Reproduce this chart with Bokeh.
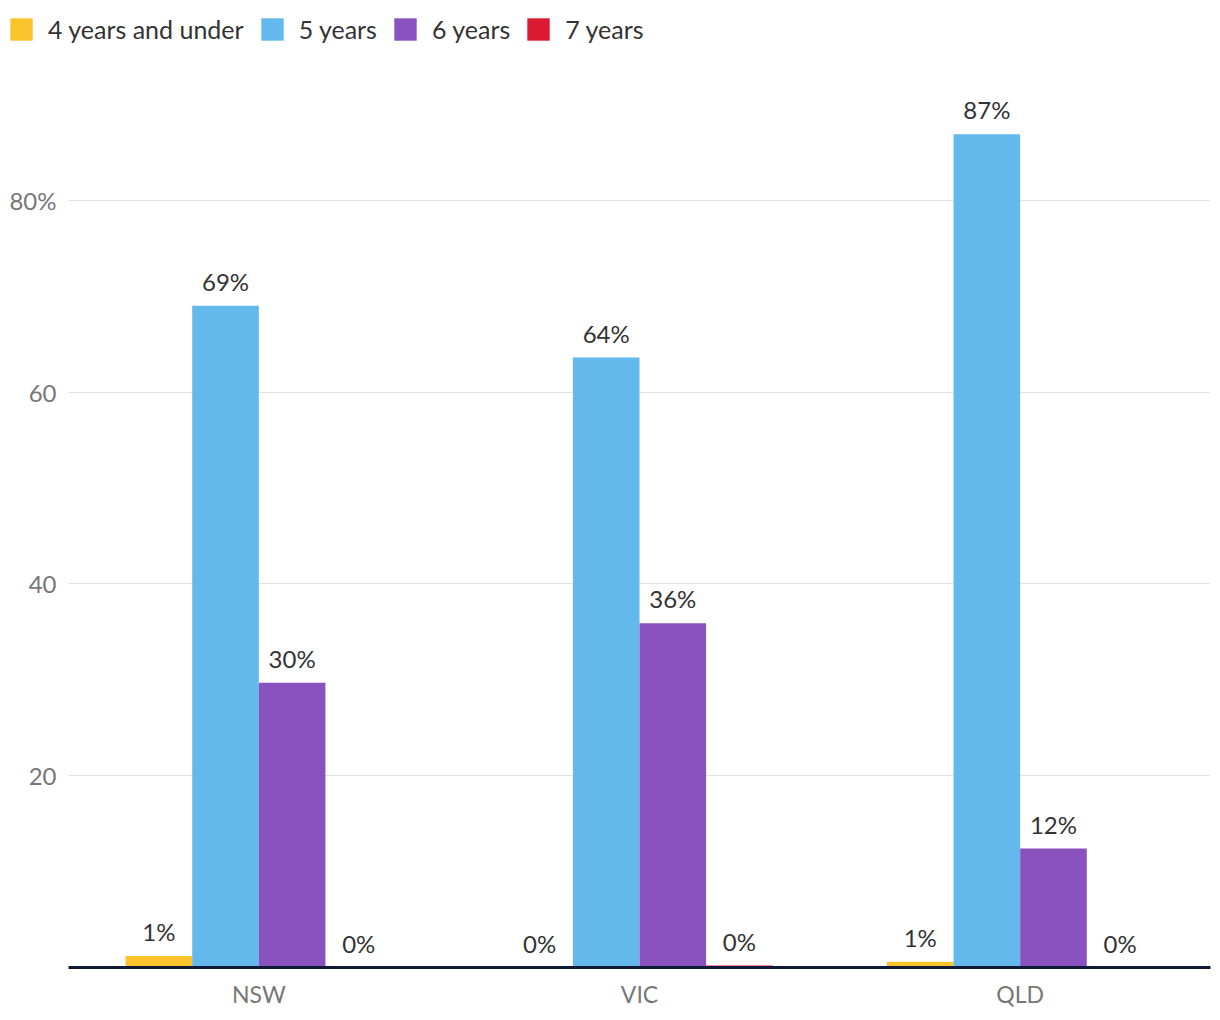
from bokeh.plotting import figure
from bokeh.layouts import column
from bokeh.models import ColumnDataSource, FactorRange, Range1d, FixedTicker, Legend, LegendItem
from bokeh.transform import dodge
from bokeh.embed import file_html
from bokeh.resources import INLINE

states = ["NSW", "VIC", "QLD"]
series_names = ["4 years and under", "5 years", "6 years", "7 years"]
under4 = [1.2, 0.0, 0.6]
five = [69.0, 63.6, 86.9]
six = [29.7, 35.9, 12.4]
seven = [0.0, 0.2, 0.0]
colors = ["#FBC42D", "#63B8EC", "#8A52BF", "#DB1A31"]
y_ticks = [0, 20, 40, 60, 80]
y_tick_labels = {0: "", 20: "20", 40: "40", 60: "60", 80: "80%"}

FONT = "Lato"
W = 1212
LEG_H = 60

# ---- legend strip ----
lg = figure(width=W, height=LEG_H, x_range=Range1d(0, 1), y_range=Range1d(0, 1),
            output_backend="svg", toolbar_location=None,
            min_border=0, min_border_left=0, min_border_right=0, min_border_top=0, min_border_bottom=0)
lg.axis.visible = False
lg.grid.visible = False
lg.outline_line_color = None
leg_renderers = []
for name, col in zip(series_names, colors):
    r = lg.vbar(x=[5], top=[5], bottom=[4], width=0.1, fill_color=col, line_color=None)
    leg_renderers.append(r)
legend = Legend(items=[LegendItem(label=n, renderers=[r]) for n, r in zip(series_names, leg_renderers)],
                orientation="horizontal", location=(7, 16),
                label_text_font=FONT, label_text_font_size="25px", label_text_color="#333333",
                glyph_width=28, glyph_height=28, label_standoff=13, spacing=14,
                padding=0, margin=0, border_line_color=None, background_fill_alpha=0)
lg.add_layout(legend, "center")

# ---- main chart ----
p = figure(x_range=FactorRange(*states, range_padding=0), y_range=Range1d(0, 908 / 9.6),
           width=W, height=950, output_backend="svg", toolbar_location=None,
           min_border_left=68, min_border_right=2, min_border_top=0, min_border_bottom=42)
p.outline_line_color = None

offsets = [-0.2625, -0.0875, 0.0875, 0.2625]
series = [under4, five, six, seven]
for name, vals, col, off in zip(series_names, series, colors, offsets):
    src = ColumnDataSource(dict(state=states, v=vals, lab=[f"{round(v)}%" for v in vals]))
    p.vbar(x=dodge("state", off, range=p.x_range), top="v", width=0.175, source=src,
           fill_color=col, line_color=None)
    p.text(x=dodge("state", off, range=p.x_range), y="v", text="lab", source=src,
           text_align="center", text_baseline="bottom", y_offset=-10,
           text_font_size="24px", text_color="#333333", text_font={"value": FONT})

p.xgrid.grid_line_color = None
p.ygrid.ticker = FixedTicker(ticks=y_ticks)
p.ygrid.grid_line_color = "#e2e2e2"
p.ygrid.grid_line_width = 1

p.yaxis.ticker = FixedTicker(ticks=y_ticks)
p.yaxis.major_label_overrides = y_tick_labels
p.yaxis.axis_line_color = None
p.yaxis.major_tick_line_color = None
p.yaxis.minor_tick_line_color = None
p.yaxis.major_label_text_font = FONT
p.yaxis.major_label_text_font_size = "24px"
p.yaxis.major_label_text_color = "#777777"
p.yaxis.major_label_standoff = 6

p.xaxis.axis_line_color = "#0f1a38"
p.xaxis.axis_line_width = 3
p.xaxis.major_tick_line_color = None
p.xaxis.minor_tick_line_color = None
p.xaxis.major_label_text_font = FONT
p.xaxis.major_label_text_font_size = "23px"
p.xaxis.major_label_text_color = "#777777"
p.xaxis.major_label_standoff = 6

layout = column(column(lg), p, spacing=0)
open("out.html", "w").write(file_html(layout, INLINE))
